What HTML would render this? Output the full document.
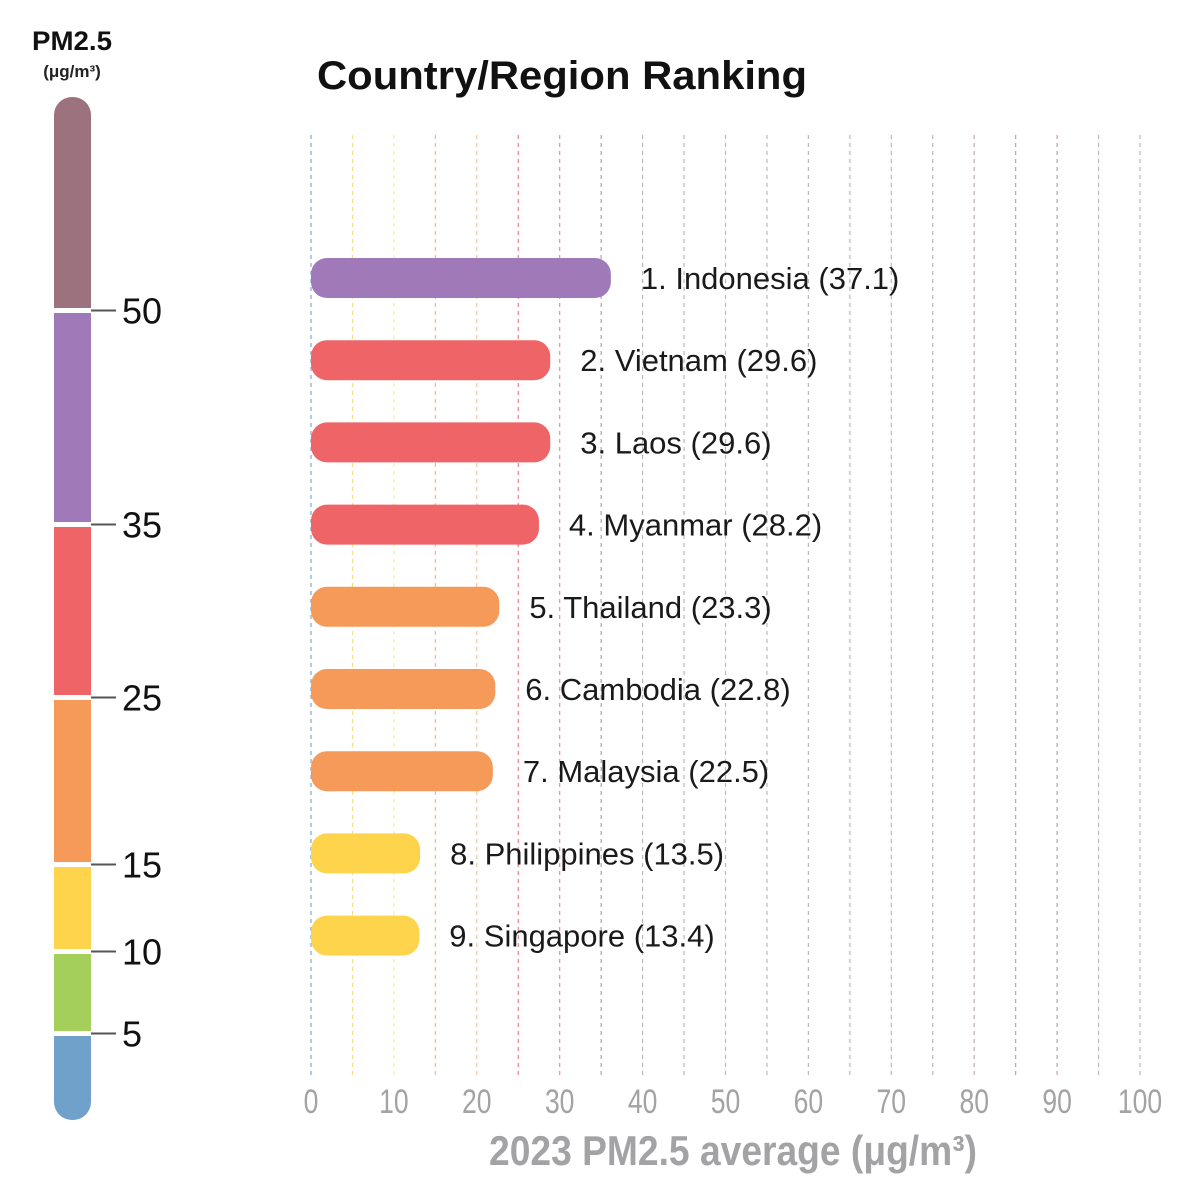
<!DOCTYPE html>
<html><head><meta charset="utf-8"><style>
html,body{margin:0;padding:0;background:#fff;}
svg{display:block;font-family:"Liberation Sans",Arial,sans-serif;}
</style></head><body>
<svg id="chart" width="1200" height="1191" viewBox="0 0 1200 1191" xmlns="http://www.w3.org/2000/svg">
<text x="72" y="50" text-anchor="middle" font-size="27" font-weight="bold" fill="#111" textLength="80" lengthAdjust="spacingAndGlyphs">PM2.5</text>
<text x="72" y="77" text-anchor="middle" font-size="17" font-weight="bold" fill="#222">(μg/m³)</text>
<text x="317" y="89" font-size="40" font-weight="bold" fill="#111" textLength="490" lengthAdjust="spacingAndGlyphs">Country/Region Ranking</text>
<g id="legend"></g>
<g id="grid"></g>
<g id="bars"></g>
<g id="xticks"></g>
<text x="733" y="1165" text-anchor="middle" font-size="42" font-weight="bold" fill="#a3a3a5" textLength="488" lengthAdjust="spacingAndGlyphs">2023 PM2.5 average (μg/m³)</text>
</svg>
<script>
const countries = ["Indonesia","Vietnam","Laos","Myanmar","Thailand","Cambodia","Malaysia","Philippines","Singapore"];
const values = [37.1,29.6,29.6,28.2,23.3,22.8,22.5,13.5,13.4];
const barColors = ["#a07ab8","#ef6466","#ef6466","#ef6466","#f59a58","#f59a58","#f59a58","#fdd44c","#fdd44c"];
const tickValues = [0,10,20,30,40,50,60,70,80,90,100];
const gridValues = [0,5,10,15,20,25,30,35,40,45,50,55,60,65,70,75,80,85,90,95,100];
const gridColors = ["#7fa6d0","#f2dc8a","#f7e99a","#f5b98a","#f2c4a0","#e8808a","#e89098","#b5a0bd","#b8b8b8","#b8b8b8","#b8b8b8","#b8b8b8","#b8b8b8","#b8b8b8","#b8b8b8","#b8b8b8","#c0a8b0","#c8a0a8","#c8a0a8","#b8b8b8","#b8b8b8"];
const legendBreaks = [50,35,25,15,10,5];
const legendColors = ["#9d727f","#a07ab8","#ef6466","#f59a58","#fdd44c","#a5cf5b","#6fa1cb"];

const NS="http://www.w3.org/2000/svg";
const X0=311,X1=1140;
function x(v){return X0+(v/100)*(X1-X0);}
const rowY0=278,rowStep=82.2;
function y(i){return rowY0+i*rowStep;}
function mk(tag,attrs,parent){const e=document.createElementNS(NS,tag);for(const k in attrs)e.setAttribute(k,attrs[k]);parent.appendChild(e);return e;}

const grid=document.getElementById('grid');
gridValues.forEach((g,i)=>{
  const l=mk('line',{x1:x(g),x2:x(g),y1:135,y2:1078,stroke:gridColors[i],'stroke-width':1.2,'stroke-dasharray':'4,4'},grid);
  
  
});

const bars=document.getElementById('bars');
countries.forEach((c,i)=>{
  const w=(x(values[i])-X0)*0.975;
  const r=mk('rect',{x:X0,y:y(i)-20,width:w,height:40,rx:16,fill:barColors[i]},bars);
  
  
  const t=mk('text',{x:X0+w+30,y:y(i)+11,'font-size':31,fill:'#1a1a1a'},bars);
  t.textContent=(i+1)+'. '+c+' ('+values[i].toFixed(1)+')';
  
  
});

const xt=document.getElementById('xticks');
tickValues.forEach(v=>{
  const t=mk('text',{x:x(v),y:1113,'text-anchor':'middle','font-size':34,fill:'#a3a3a5',transform:'translate('+x(v)+',0) scale(0.78,1) translate('+(-x(v))+',0)'},xt);
  t.textContent=v;
  
  
});

// legend
const lg=document.getElementById('legend');
const LT=97,LB=1120;
const bounds=[LT,310,524,697,864,951,1033,LB];
const cp=mk('clipPath',{id:'lgclip'},lg);
mk('rect',{x:54,y:LT,width:37,height:LB-LT,rx:18},cp);
const seg=mk('g',{'clip-path':'url(#lgclip)'},lg);
legendColors.forEach((col,i)=>{
  const top=bounds[i]+(i>0?3:0), bot=bounds[i+1]-(i<legendColors.length-1?2:0);
  const r=mk('rect',{x:54,y:top,width:37,height:bot-top,fill:col},seg);
  
  
});
legendBreaks.forEach((b,i)=>{
  const yy=bounds[i+1]+0.5;
  mk('line',{x1:91,x2:116,y1:yy,y2:yy,stroke:'#555','stroke-width':2},lg);
  const t=mk('text',{x:122,y:yy+13,'font-size':36,fill:'#111'},lg);
  t.textContent=b;
  
  
});
</script>
</body></html>
